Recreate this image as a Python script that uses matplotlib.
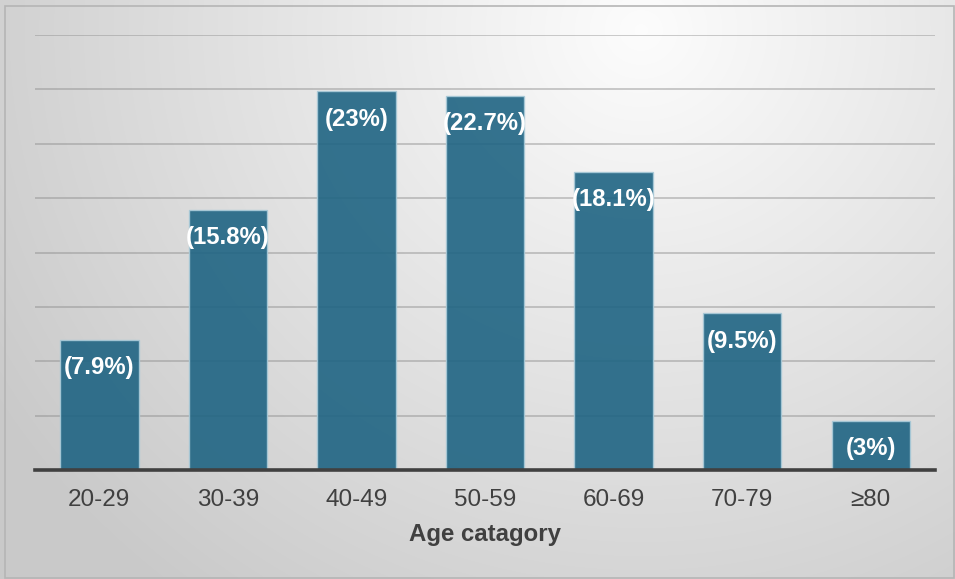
import numpy as np
import matplotlib.pyplot as plt
from matplotlib.patches import Rectangle

plt.rcParams["font.family"] = ["Liberation Sans", "DejaVu Sans"]

categories = ["20-29", "30-39", "40-49", "50-59", "60-69", "70-79", "≥80"]
percent = [7.9, 15.8, 23, 22.7, 18.1, 9.5, 3]
labels = ["(7.9%)", "(15.8%)", "(23%)", "(22.7%)", "(18.1%)", "(9.5%)", "(3%)"]
grid_step = 3.3

fig = plt.figure(figsize=(9.55, 5.79), dpi=100)

# radial gradient background
bg = fig.add_axes([0, 0, 1, 1], zorder=-10)
h, w = 579, 955
yy, xx = np.mgrid[0:h, 0:w]
cx, cy = 640, 30
r = np.sqrt(((xx - cx) / 720.0) ** 2 + ((yy - cy) / 680.0) ** 2)
shade = np.clip(0.99 - 0.19 * r, 0.79, 1.0)
bg.imshow(np.dstack([shade] * 3), extent=[0, 1, 0, 1], aspect="auto", origin="upper")
bg.add_patch(Rectangle((5 / w, 1 / h), 949 / w, 572 / h, transform=bg.transAxes,
                       fill=False, edgecolor="#b5b5b5", linewidth=1.2))
bg.axis("off")

ax = fig.add_axes([35 / 955, 1 - 470 / 579, 900 / 955, 435 / 579])
ax.patch.set_alpha(0)
x = np.arange(len(categories))
bars = ax.bar(x, percent, width=0.61, color="#1f6483", alpha=0.9,
              edgecolor="#a9cad8", linewidth=1, zorder=3)

for b, lab in zip(bars, labels):
    ax.annotate(lab, (b.get_x() + b.get_width() / 2, b.get_height()),
                xytext=(0, -28), textcoords="offset pixels",
                ha="center", va="center", color="white",
                fontsize=17.2, fontweight="bold", zorder=5)

ax.set_xlim(-0.5, len(categories) - 0.5)
ax.set_ylim(0, grid_step * 8)
ax.set_yticks(np.arange(1, 9) * grid_step)
ax.yaxis.grid(True, color="#8a8a8a", alpha=0.55, linewidth=1.1, zorder=0)
ax.tick_params(axis="y", left=False, labelleft=False)
ax.set_xticks(x)
ax.set_xticklabels(categories, fontsize=17.5, color="#404040")
ax.tick_params(axis="x", length=0, pad=13.5)
for s in ["top", "right", "left"]:
    ax.spines[s].set_visible(False)
ax.spines["bottom"].set_color("#404040")
ax.spines["bottom"].set_linewidth(2.6)
ax.spines["bottom"].set_zorder(6)
ax.set_xlabel("Age catagory", fontsize=17.3, fontweight="bold", color="#404040", labelpad=9)

fig.savefig("out.png", dpi=100)
